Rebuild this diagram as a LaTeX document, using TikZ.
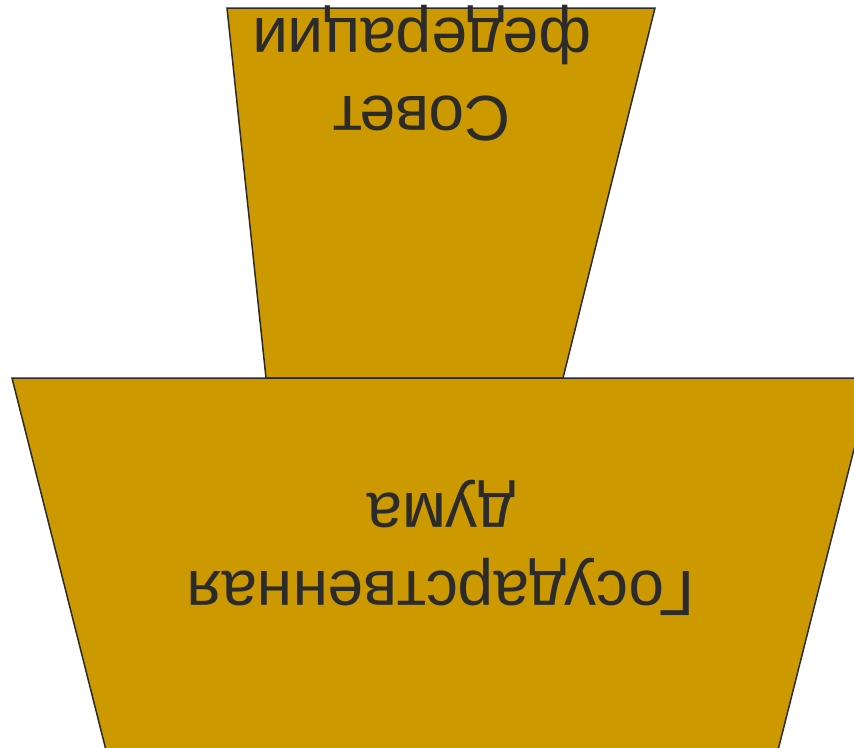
\documentclass[tikz,border=0pt]{standalone}
\usepackage{fontspec}
\setmainfont{Liberation Sans}
\definecolor{gold}{HTML}{CC9900}
\definecolor{ink}{HTML}{2B2B2B}
\tikzset{
  panel/.style={fill=gold, draw=ink, line width=1.5pt, line join=miter},
  label/.style={rotate=180, align=center, text=ink, inner sep=0pt, font=\fontsize{64}{78}\selectfont}
}
\begin{document}
\begin{tikzpicture}[x=1pt, y=-1pt]
\useasboundingbox (0,0) rectangle (854,747);
\clip (0,0) rectangle (854,747);
\draw[panel] (227,8) -- (655,8) -- (563,378) -- (266,378) -- cycle;
\draw[panel] (12,378) -- (872,378) -- (773,770) -- (111,770) -- cycle;
\node[label] (sovet) at (422,73) {Совет\\федерации};
\node[label] (duma) at (441,548) {Государственная\\дума};
\end{tikzpicture}
\end{document}
